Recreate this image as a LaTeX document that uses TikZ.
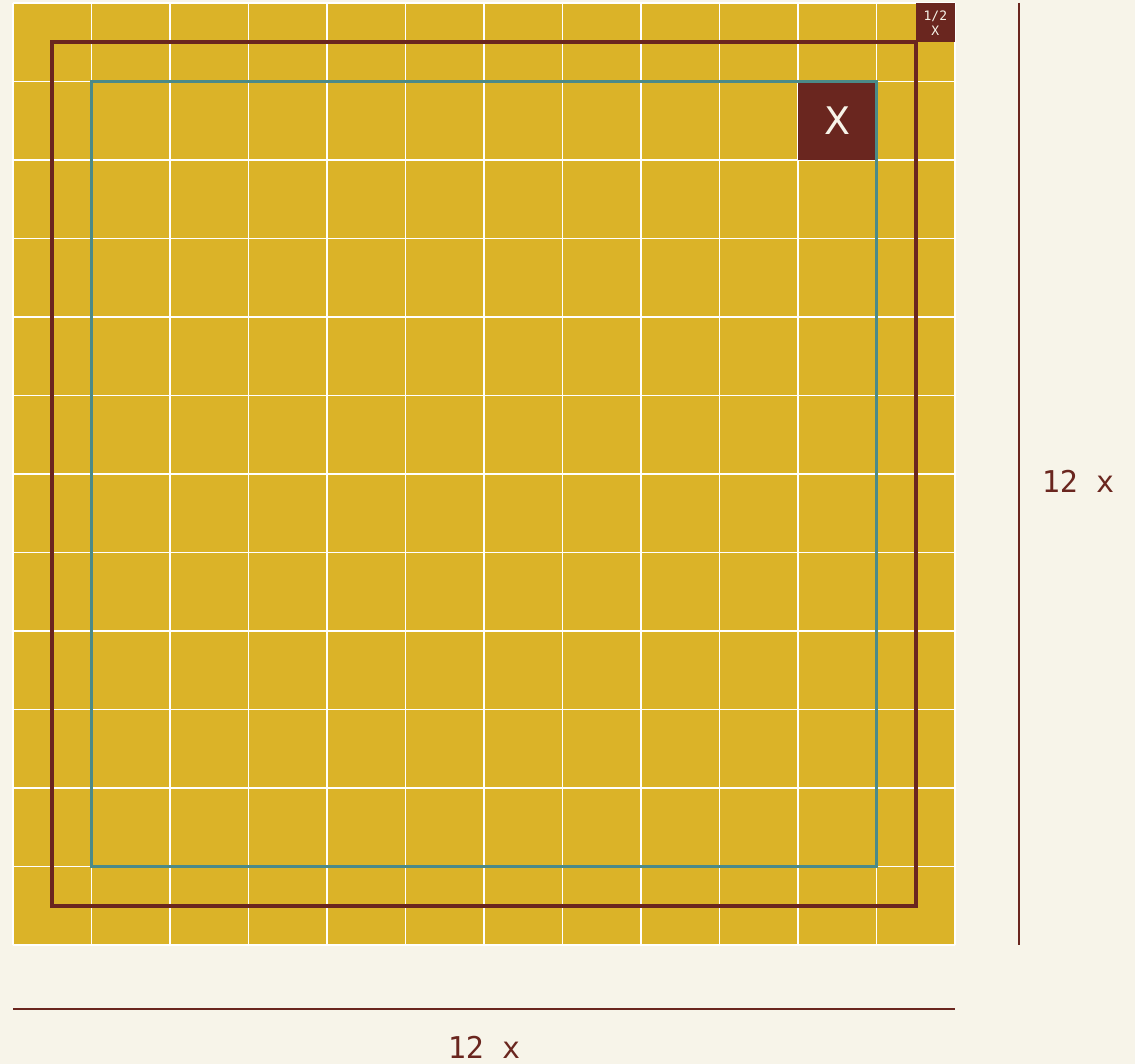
\documentclass[tikz,border=0pt]{standalone}
\usepackage{fontspec}
\newfontfamily\monof{DejaVu Sans Mono}
\newfontfamily\sansf{DejaVu Sans}
\definecolor{bgc}{HTML}{F7F4E9}
\definecolor{gold}{HTML}{DBB328}
\definecolor{rust}{HTML}{6A261F}
\definecolor{tealc}{HTML}{4B8A88}
\tikzset{
  gridline/.style={draw=white, line width=1.3pt},
  outerbox/.style={draw=rust, line width=3.8pt},
  innerbox/.style={draw=tealc, line width=3.6pt},
  dimline/.style={draw=rust, line width=2.4pt},
  dimlabel/.style={text=rust, font=\monof\fontsize{30}{30}\selectfont, inner sep=0pt},
  halftext/.style={text=bgc, font=\monof\fontsize{13}{13}\selectfont, inner sep=0pt},
  cellbox/.style={fill=rust, draw=none, inner sep=0pt, outer sep=0pt, text=bgc}
}
\begin{document}
\begin{tikzpicture}[x=1pt,y=-1pt]
\fill[bgc] (0,0) rectangle (1135,1064);
\useasboundingbox (0,0) rectangle (1135,1064);
% yellow board
\fill[gold] (13,3) rectangle (955,945);
\foreach \i in {0,...,12}{
  \draw[gridline] ({13+78.5*\i},3) -- ({13+78.5*\i},945);
  \draw[gridline] (13,{3+78.5*\i}) -- (955,{3+78.5*\i});
}
% brown box with X
\node[cellbox, minimum width=78.5pt, minimum height=78.5pt, anchor=north west,
      font=\sansf\fontsize{38}{38}\selectfont] (xbox) at (798,81.5) {X};
% half box
\node[cellbox, minimum width=39.25pt, minimum height=39.25pt, anchor=north west] (halfbox) at (915.75,3) {};
\node[halftext] (halftop) at (935.4,16.5) {1/2};
\node[halftext] (halfbot) at (935.4,31) {X};
% frames
\draw[outerbox] (52.25,42.25) rectangle (915.75,905.75);
\draw[innerbox] (91.5,81.5) rectangle (876.5,866.5);
% dimension lines
\coordinate (vtop) at (1019,3);
\coordinate (vbot) at (1019,945);
\draw[dimline] (vtop) -- (vbot);
\node[dimlabel] (vlabel) at (1078,481) {12 x};
\coordinate (hleft) at (13,1009);
\coordinate (hright) at (955,1009);
\draw[dimline] (hleft) -- (hright);
\node[dimlabel] (hlabel) at (484,1047) {12 x};
\end{tikzpicture}
\end{document}
